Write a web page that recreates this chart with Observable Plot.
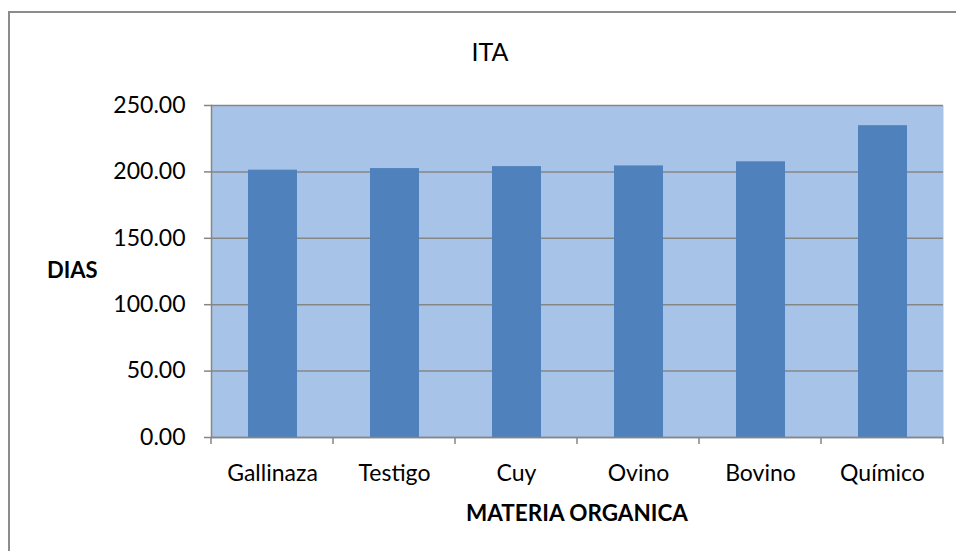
<!DOCTYPE html>
<html>
<head>
<meta charset="utf-8">
<script src="https://cdn.jsdelivr.net/npm/d3@7"></script>
<script src="https://cdn.jsdelivr.net/npm/@observablehq/plot@0.6"></script>
<style>
  html, body { margin: 0; padding: 0; background: #fff; }
  #wrap { position: relative; width: 956px; height: 551px; font-family: Lato, "Open Sans", sans-serif; color: #000; overflow: hidden; }
  #border { position: absolute; left: 8px; top: 11px; width: 1000px; height: 600px; border: 2px solid #8c8c8c; box-sizing: border-box; }
  #chart { position: absolute; left: 0; top: 0; }
  .lbl { position: absolute; white-space: nowrap; line-height: 1.2; }
  #title { left: 0; width: 980px; top: 36px; text-align: center; font-size: 25px; }
  #ylab { left: 47px; top: 257px; font-size: 22px; font-weight: bold; }
  #xlab { left: 211px; width: 732px; top: 499px; text-align: center; font-size: 22.5px; font-weight: bold; }
</style>
</head>
<body>
<div id="wrap">
  <div id="border"></div>
  <div id="chart"></div>
  <div class="lbl" id="title">ITA</div>
  <div class="lbl" id="ylab">DIAS</div>
  <div class="lbl" id="xlab">MATERIA ORGANICA</div>
</div>
<script>
const categories = ["Gallinaza", "Testigo", "Cuy", "Ovino", "Bovino", "Químico"];
const values = [201.3, 202.5, 204.0, 204.5, 207.6, 234.8];
const yTicks = [0, 50, 100, 150, 200, 250];

const data = categories.map((c, i) => ({cat: c, val: values[i]}));

// custom mark: x tick marks at category boundaries (Excel-style)
function boundaryTicks() {
  return (index, scales, values, dims) => {
    const g = d3.create("svg:g");
    const bw = (dims.width - dims.marginLeft - dims.marginRight) / categories.length;
    const y0 = dims.height - dims.marginBottom;
    const xs = categories.map(c => scales.x(c));
    xs.push(xs[xs.length - 1] + bw);
    for (const x of xs) {
      g.append("line").attr("x1", x).attr("x2", x).attr("y1", y0).attr("y2", y0 + 7)
        .attr("stroke", "#868686").attr("stroke-width", 1.5);
    }
    return g.node();
  };
}

const plot = Plot.plot({
  width: 956,
  height: 551,
  marginLeft: 211,
  marginRight: 13,
  marginTop: 105,
  marginBottom: 114,
  style: {fontFamily: "Lato, 'Open Sans', sans-serif", fontSize: "23px", color: "#000", background: "transparent", overflow: "visible"},
  x: {domain: categories, padding: 0, label: null},
  y: {domain: [0, 250], label: null},
  marks: [
    Plot.frame({fill: "#A7C4E8", stroke: null}),
    Plot.ruleY(yTicks, {stroke: "#868686", strokeWidth: 1.5}),
    Plot.barY(data, {x: "cat", y: "val", fill: "#4F81BD", insetLeft: 37, insetRight: 36}),
    Plot.frame({anchor: "left", stroke: "#868686", strokeWidth: 1.5}),
    Plot.ruleY([0], {stroke: "#868686", strokeWidth: 1.5}),
    Plot.axisY({ticks: yTicks, tickFormat: d3.format(".2f"), tickSize: 7, tickPadding: 19, stroke: "#868686", strokeWidth: 1.5, fontSize: 23, label: null}),
    Plot.axisX({tickSize: 0, tickPadding: 27, fontSize: 23, label: null}),
    boundaryTicks()
  ]
});
document.getElementById("chart").appendChild(plot);
</script>
</body>
</html>
